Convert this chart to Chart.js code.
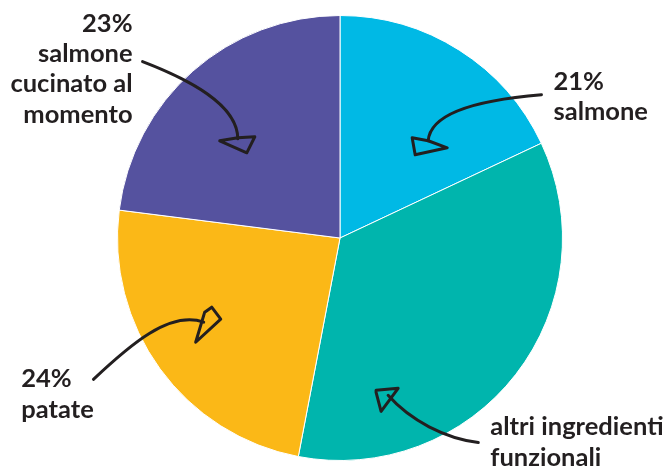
<!DOCTYPE html>
<html>
<head>
<meta charset="utf-8">
<script src="https://cdn.jsdelivr.net/npm/chart.js@4.4.0/dist/chart.umd.min.js"></script>
<style>
  html, body { margin: 0; padding: 0; background: #fff; }
  #wrap { width: 670px; height: 468px; }
</style>
</head>
<body>
<div id="wrap"><canvas id="mycanvas" width="670" height="468"></canvas></div>
<script>
// slice order clockwise from 12 o'clock
var categories = ['salmone', 'altri ingredienti funzionali', 'patate', 'salmone cucinato al momento'];
var values = [18, 35, 24, 23];   // share of the circle as drawn
var pctLabels = ['21%', '', '24%', '23%'];
var colors = ['#00b9e5', '#00b5ad', '#fbb817', '#55529f'];

// label lines, anchor and arrow, offsets in px from the pie centre at radius 222
var callouts = [
  { lines: ['salmone'], align: 'left', x: 213, y: -148,
    arrow: [[201, -143], [140, -138], [90, -126], [88, -97]],
    head: [[72, -100], [88, -97], [107, -90], [75, -83]] },
  { lines: ['altri ingredienti', 'funzionali'], align: 'left', x: 150, y: 197,
    arrow: [[138, 204], [105, 200], [70, 182], [48, 157]],
    head: [[36, 152], [58, 150], [41, 173], [36, 154]] },
  { lines: ['patate'], align: 'left', x: -318, y: 149,
    arrow: [[-246, 141], [-210, 107], [-170, 72], [-136, 84]],
    head: [[-144, 104], [-135, 74], [-128, 69], [-119, 81]] },
  { lines: ['salmone', 'cucinato al', 'momento'], align: 'right', x: -207, y: -206,
    arrow: [[-197, -176], [-150, -158], [-102, -133], [-102, -99]],
    head: [[-102, -100], [-85, -101], [-93, -85], [-120, -97]] }
];

var calloutPlugin = {
  id: 'callouts',
  afterDraw: function(chart){
    var ctx = chart.ctx;
    var arc = chart.getDatasetMeta(0).data[0];
    var cx = arc.x, cy = arc.y, k = arc.outerRadius / 222;
    function P(p){ return [cx + p[0] * k, cy + p[1] * k]; }
    ctx.save();
    ctx.strokeStyle = '#231f20';
    ctx.fillStyle = '#231f20';
    ctx.lineWidth = 3;
    ctx.lineCap = 'round';
    ctx.lineJoin = 'round';
    ctx.font = 'bold 25.5px Lato';
    ctx.textBaseline = 'alphabetic';
    for(var i in callouts){
      var c = callouts[i];
      var a = c.arrow.map(P);
      ctx.beginPath();
      ctx.moveTo(a[0][0], a[0][1]);
      ctx.bezierCurveTo(a[1][0], a[1][1], a[2][0], a[2][1], a[3][0], a[3][1]);
      ctx.stroke();
      var h = c.head.map(P);
      ctx.beginPath();
      ctx.moveTo(h[0][0], h[0][1]);
      for(var j = 1; j < h.length; j++) ctx.lineTo(h[j][0], h[j][1]);
      ctx.closePath();
      ctx.stroke();
      ctx.textAlign = c.align;
      var t = P([c.x, c.y]);
      var lines = c.lines.slice();
      if(pctLabels[i]) lines.unshift(pctLabels[i]);
      for(var n = 0; n < lines.length; n++){
        ctx.fillText(lines[n], t[0], t[1] + n * 30.4);
      }
    }
    ctx.restore();
  }
};

var chartdata = {
  labels: categories,
  datasets: [{
    data: values,
    backgroundColor: colors,
    borderColor: '#ffffff',
    borderWidth: 1,
    hoverOffset: 0
  }]
};

var ctx = document.getElementById('mycanvas');
var pie = new Chart(ctx, {
  type: 'pie',
  data: chartdata,
  options: {
    responsive: false,
    animation: false,
    layout: { padding: { top: 15, bottom: 7, left: 10, right: 0 } },
    plugins: { legend: { display: false }, tooltip: { enabled: false } }
  },
  plugins: [calloutPlugin]
});
</script>
</body>
</html>
